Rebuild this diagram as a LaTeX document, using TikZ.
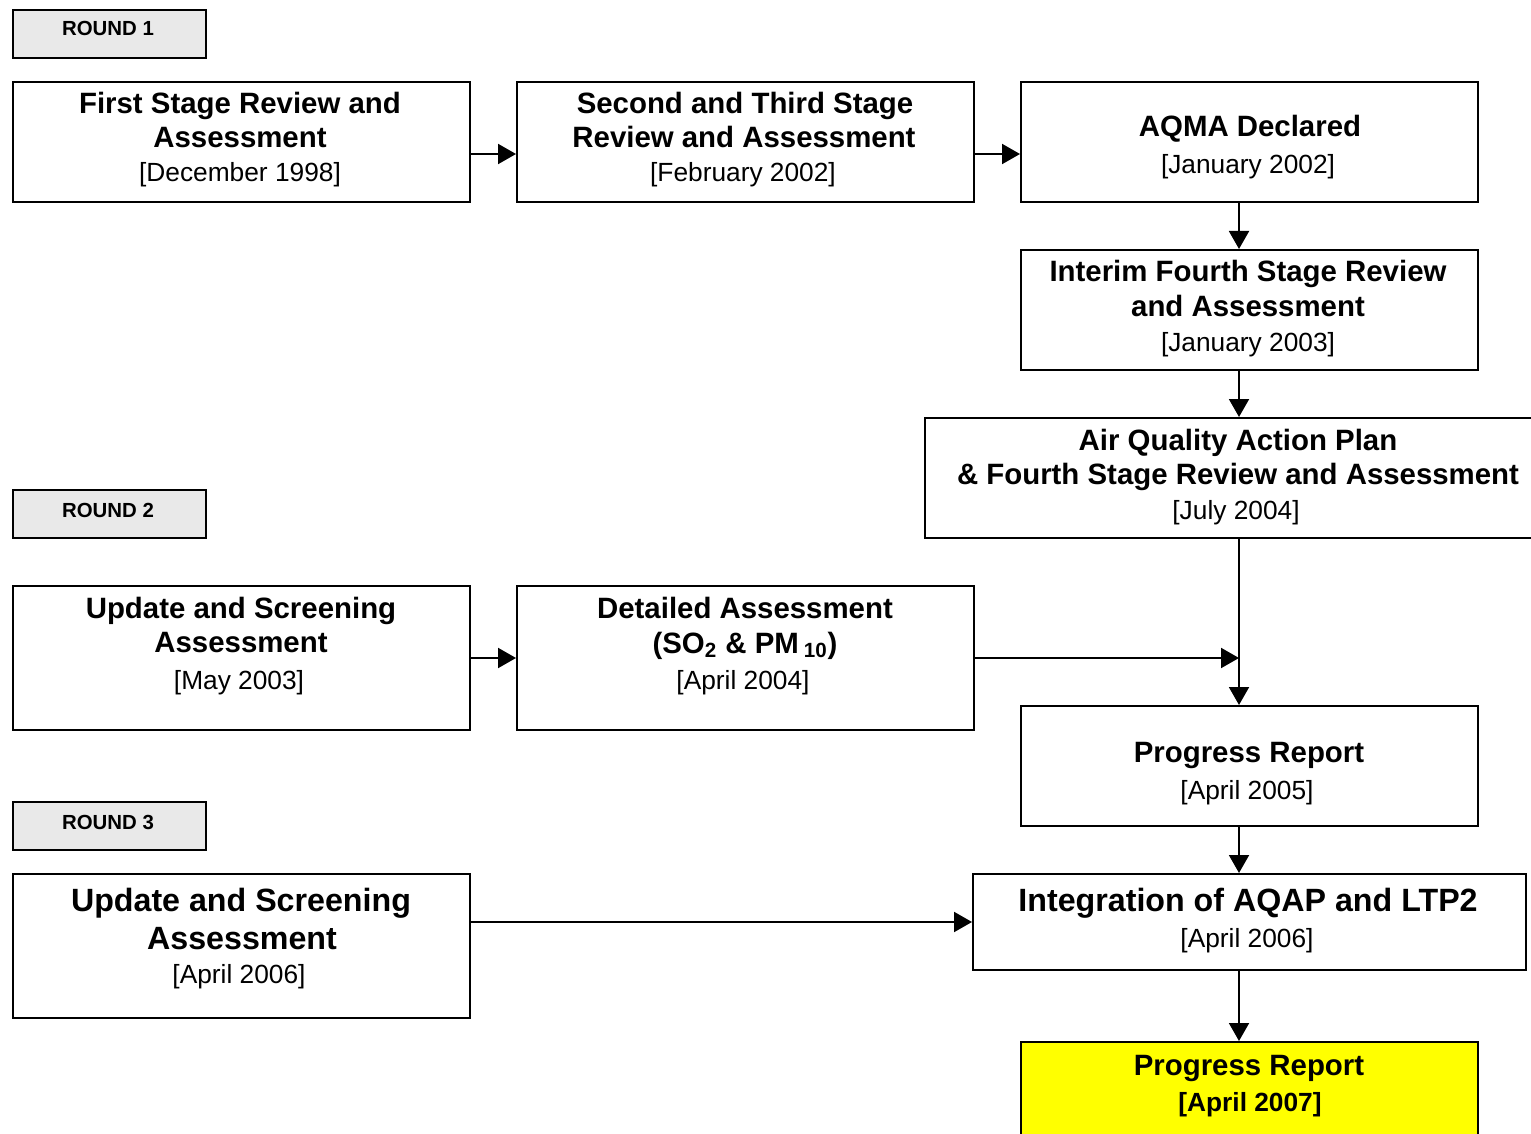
\documentclass[tikz,border=0pt]{standalone}
\usepackage{fontspec}
\setmainfont{Liberation Sans}
\usetikzlibrary{arrows.meta}
\definecolor{lblgray}{HTML}{E9E9E9}
\definecolor{hiyellow}{HTML}{FFFF00}
\tikzset{
  box/.style={draw, line width=1pt, inner sep=0pt, anchor=north west, minimum width=228.5pt, minimum height=60pt},
  roundbox/.style={box, fill=lblgray, minimum width=96.5pt, minimum height=24pt},
  ttl/.style={anchor=base, inner sep=0pt, font=\fontsize{14.7}{17}\selectfont\bfseries},
  bigttl/.style={anchor=base, inner sep=0pt, font=\fontsize{16.1}{19}\selectfont\bfseries},
  dat/.style={anchor=base, inner sep=0pt, font=\fontsize{13.15}{15}\selectfont},
  rlbl/.style={anchor=base, inner sep=0pt, font=\fontsize{10.2}{12}\selectfont\bfseries},
  arr/.style={line width=1pt, -{Triangle[length=9pt,width=10pt]}}
}
\begin{document}
\begin{tikzpicture}[x=0.5pt, y=-0.5pt]
\useasboundingbox (0,0) rectangle (1531,1134);
\clip (0,0) rectangle (1531,1134);
\fill[white] (0,0) rectangle (1531,1134);

% round labels
\node[roundbox] (r1) at (12,9) {};
\node[rlbl] (r1t) at (108,36) {ROUND 1};
\node[roundbox] (r2) at (12,489) {};
\node[rlbl] (r2t) at (108,517) {ROUND 2};
\node[roundbox] (r3) at (12,801) {};
\node[rlbl] (r3t) at (108,829) {ROUND 3};

% boxes
\node[box] (b1) at (12,81) {};
\node[box] (b2) at (516,81) {};
\node[box] (b3) at (1020,81) {};
\node[box] (b4) at (1020,249) {};
\node[box, minimum width=314pt] (b5) at (924,417) {};
\node[box, minimum height=72pt] (b6) at (12,585) {};
\node[box, minimum height=72pt] (b7) at (516,585) {};
\node[box] (b8) at (1020,705) {};
\node[box, minimum height=72pt] (b9) at (12,873) {};
\node[box, minimum width=276.5pt, minimum height=48pt] (b10) at (972,873) {};
\node[box, fill=hiyellow] (b11) at (1020,1041) {};

% texts
\node[ttl] (b1a) at (240,114) {First Stage Review and};
\node[ttl] (b1b) at (240,148) {Assessment};
\node[dat] (b1c) at (240,182) {[December 1998]};

\node[ttl] (b2a) at (745,114) {Second and Third Stage};
\node[ttl] (b2b) at (744,148) {Review and Assessment};
\node[dat] (b2c) at (743,182) {[February 2002]};

\node[ttl] (b3a) at (1250,137) {AQMA Declared};
\node[dat] (b3b) at (1248,174) {[January 2002]};

\node[ttl] (b4a) at (1248,282) {Interim Fourth Stage Review};
\node[ttl] (b4b) at (1248,316) {and Assessment};
\node[dat] (b4c) at (1248,351) {[January 2003]};

\node[ttl] (b5a) at (1238,450) {Air Quality Action Plan};
\node[ttl] (b5b) at (1238,484) {\& Fourth Stage Review and Assessment};
\node[dat] (b5c) at (1236,519) {[July 2004]};

\node[ttl] (b6a) at (241,618) {Update and Screening};
\node[ttl] (b6b) at (241,652) {Assessment};
\node[dat] (b6c) at (239,689) {[May 2003]};

\node[ttl] (b7a) at (745,618) {Detailed Assessment};
\node[ttl] (b7b) at (745,653) {(SO\textsubscript{2} \& PM\,\textsubscript{10})};
\node[dat] (b7c) at (743,689) {[April 2004]};

\node[ttl] (b8a) at (1249,762) {Progress Report};
\node[dat] (b8b) at (1247,799) {[April 2005]};

\node[bigttl] (b9a) at (241,911) {Update and Screening};
\node[bigttl] (b9b) at (242,949) {Assessment};
\node[dat] (b9c) at (239,983) {[April 2006]};

\node[bigttl] (b10a) at (1248,911) {Integration of AQAP and LTP2};
\node[dat] (b10b) at (1247,947) {[April 2006]};

\node[ttl] (b11a) at (1249,1075) {Progress Report};
\node[dat, font=\fontsize{13.15}{15}\selectfont\bfseries] (b11b) at (1250,1111) {[April 2007]};

% connectors
\coordinate (jn) at (b5.south |- b7.east);
\draw[arr] ([yshift=-6pt]b1.east) -- ([yshift=-6pt]b2.west);
\draw[arr] ([yshift=-6pt]b2.east) -- ([yshift=-6pt]b3.west);
\draw[arr] (b3.south -| b5.south) -- (b4.north -| b5.south);
\draw[arr] (b4.south -| b5.south) -- (b5.north);
\draw[arr] (b5.south) -- (b8.north -| b5.south);
\draw[arr] (b6.east) -- (b7.west);
\draw[arr] (b7.east) -- (jn);
\draw[arr] (b8.south -| b5.south) -- (b10.north -| b5.south);
\draw[arr] (b9.east |- b10.west) -- (b10.west);
\draw[arr] (b10.south -| b5.south) -- (b11.north -| b5.south);
\end{tikzpicture}
\end{document}
